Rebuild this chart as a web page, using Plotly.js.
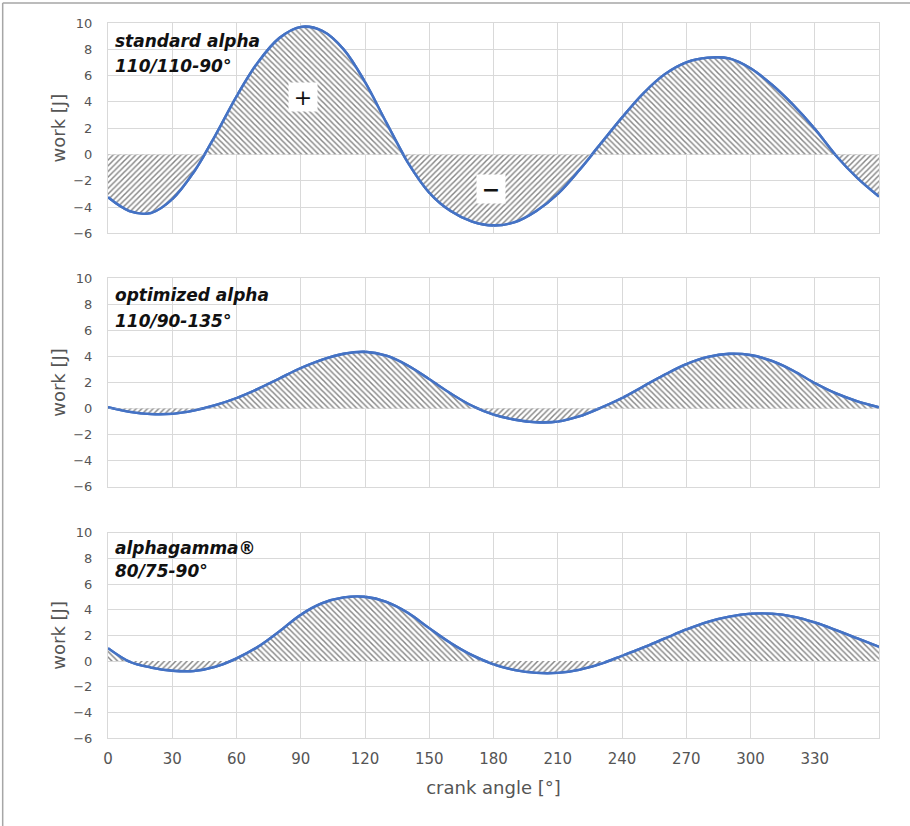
<!DOCTYPE html>
<html>
<head>
<meta charset="utf-8">
<script src="https://cdn.plot.ly/plotly-3.0.1.min.js"></script>
<style>
html,body{margin:0;padding:0;background:#ffffff;}
#chart{width:910px;height:826px;}
</style>
</head>
<body>
<div id="chart"></div>
<script>
// ---- data ----
const crankAngle = [0,10,20,30,40,50,60,70,80,90,100,110,120,130,140,150,160,170,180,
                    190,200,210,220,230,240,250,260,270,280,290,300,310,320,330,340,350,360];
const workStandard = [-3.25,-4.3,-4.45,-3.4,-1.35,1.4,4.4,7.0,8.85,9.7,9.4,8.0,5.5,2.4,-0.6,-2.9,-4.3,-5.1,-5.4,
                      -5.15,-4.3,-3.0,-1.2,0.8,2.8,4.65,6.1,7.0,7.35,7.3,6.55,5.3,3.75,1.95,-0.1,-1.8,-3.2];
const workOptimized = [0.1,-0.25,-0.42,-0.4,-0.15,0.25,0.8,1.5,2.3,3.1,3.75,4.2,4.35,4.05,3.3,2.25,1.15,0.2,-0.45,
                       -0.85,-1.05,-1.0,-0.6,0.05,0.8,1.7,2.6,3.4,3.95,4.2,4.1,3.65,2.9,1.95,1.15,0.55,0.1];
const workAlphagamma = [1.0,-0.05,-0.5,-0.75,-0.78,-0.45,0.2,1.1,2.3,3.6,4.5,4.95,5.0,4.6,3.75,2.55,1.4,0.45,-0.25,
                        -0.7,-0.92,-0.92,-0.68,-0.22,0.4,1.05,1.75,2.45,3.05,3.45,3.68,3.68,3.45,3.0,2.4,1.75,1.1];
const xTickVals = [0,30,60,90,120,150,180,210,240,270,300,330];
const yTickVals = [-6,-4,-2,0,2,4,6,8,10];
const labelLine1 = ['standard alpha', 'optimized alpha', 'alphagamma®'];
const labelLine2 = ['110/110-90°', '110/90-135°', '80/75-90°'];

// ---- styling ----
const FONT = 'DejaVu Sans, Verdana, sans-serif';
const GRID = '#d9d9d9';
const TXT = '#555555';
const BLUE = '#4472c4';
const Y_MIN = -6, Y_MAX = 10;
const panelDomains = [[0.7059, 1.0], [0.3515, 0.6429], [0.0, 0.2871]];
const series = [workStandard, workOptimized, workAlphagamma];
const labelY = [[8.65, 6.72], [8.72, 6.74], [8.78, 7.03]];

const layout = {
  width: 910, height: 826,
  margin: {l: 108, r: 31, t: 23, b: 88, pad: 0},
  paper_bgcolor: '#ffffff',
  plot_bgcolor: 'rgba(0,0,0,0)',
  showlegend: false,
  hovermode: false,
  font: {family: FONT, color: TXT},
  annotations: [],
  shapes: [
    {type: 'line', xref: 'paper', yref: 'paper', x0: -0.1366, x1: -0.1366, y0: -0.2, y1: 1.028,
     line: {color: '#a6a6a6', width: 1.5}},
    {type: 'line', xref: 'paper', yref: 'paper', x0: -0.1366, x1: 1.1, y0: 1.028, y1: 1.028,
     line: {color: '#a6a6a6', width: 1.5}}
  ]
};
const traces = [];

for (let i = 0; i < 3; i++) {
  const n = i + 1;
  const xName = n === 1 ? 'xaxis' : 'xaxis' + n;
  const yName = n === 1 ? 'yaxis' : 'yaxis' + n;
  const xId = n === 1 ? 'x' : 'x' + n;
  const yId = n === 1 ? 'y' : 'y' + n;
  const [d0, d1] = panelDomains[i];
  const z = d0 + (d1 - d0) * (0 - Y_MIN) / (Y_MAX - Y_MIN);
  const posN = 4 + 2 * i, negN = 5 + 2 * i;

  layout[xName] = {
    domain: [0, 1], range: [0, 360], anchor: yId,
    tickmode: 'array', tickvals: xTickVals,
    showticklabels: i === 2,
    tickfont: {family: FONT, size: 15, color: TXT},
    ticks: '', ticklabelstandoff: 7,
    showgrid: true, gridcolor: GRID, gridwidth: 1,
    zeroline: false,
    showline: true, mirror: true, linecolor: GRID, linewidth: 1,
    fixedrange: true
  };
  if (i === 2) {
    layout[xName].title = {text: 'crank angle [°]', font: {family: FONT, size: 18, color: TXT}, standoff: 14};
  }
  if (n !== 1) layout[xName].matches = 'x';

  layout[yName] = {
    domain: [d0, d1], range: [Y_MIN, Y_MAX], anchor: xId,
    tickmode: 'array', tickvals: yTickVals,
    tickfont: {family: FONT, size: 13, color: TXT},
    ticks: '', ticklabelstandoff: 12,
    showgrid: true, gridcolor: GRID, gridwidth: 1,
    zeroline: false,
    showline: true, mirror: true, linecolor: GRID, linewidth: 1,
    title: {text: 'work [J]', font: {family: FONT, size: 18, color: TXT}, standoff: 2},
    fixedrange: true
  };
  // hidden half-axes used only to clip the positive / negative hatched areas
  layout['yaxis' + posN] = {domain: [z, d1], range: [0, Y_MAX], anchor: xId, visible: false, fixedrange: true};
  layout['yaxis' + negN] = {domain: [d0, z], range: [Y_MIN, 0], anchor: xId, visible: false, fixedrange: true};

  const lineStyle = {color: BLUE, width: 2.6, shape: 'spline', smoothing: 1};
  traces.push({
    x: crankAngle, y: series[i], xaxis: xId, yaxis: 'y' + posN,
    type: 'scatter', mode: 'lines', line: lineStyle, fill: 'tozeroy',
    fillcolor: '#ffffff',
    fillpattern: {shape: '\\', fgcolor: '#868686', bgcolor: '#ffffff', size: 4, solidity: 0.37}
  });
  traces.push({
    x: crankAngle, y: series[i], xaxis: xId, yaxis: 'y' + negN,
    type: 'scatter', mode: 'lines', line: lineStyle, fill: 'tozeroy',
    fillcolor: '#ffffff',
    fillpattern: {shape: '/', fgcolor: '#868686', bgcolor: '#ffffff', size: 4, solidity: 0.37}
  });
  traces.push({
    x: crankAngle, y: series[i], xaxis: xId, yaxis: yId,
    type: 'scatter', mode: 'lines', line: lineStyle
  });

  layout.annotations.push({
    xref: xId, yref: yId, x: 0, y: labelY[i][0], xanchor: 'left', yanchor: 'middle', xshift: 5,
    text: '<b><i>' + labelLine1[i] + '</i></b>', showarrow: false,
    font: {family: FONT, size: 17, color: '#111111'}
  });
  layout.annotations.push({
    xref: xId, yref: yId, x: 0, y: labelY[i][1], xanchor: 'left', yanchor: 'middle', xshift: 5,
    text: '<b><i>' + labelLine2[i] + '</i></b>', showarrow: false,
    font: {family: FONT, size: 17, color: '#111111'}
  });
}

// sign markers in the top panel
layout.annotations.push({
  xref: 'x', yref: 'y', x: 90.9, y: 4.39, text: '+', showarrow: false,
  font: {family: FONT, size: 22, color: '#111111'}, bgcolor: '#ffffff', borderpad: 3, width: 22, height: 22
});
layout.annotations.push({
  xref: 'x', yref: 'y', x: 178.6, y: -2.62, text: '<b>−</b>', showarrow: false,
  font: {family: FONT, size: 22, color: '#111111'}, bgcolor: '#ffffff', borderpad: 3, width: 22, height: 22
});

Plotly.newPlot('chart', traces, layout, {staticPlot: true, displayModeBar: false});
</script>
</body>
</html>
